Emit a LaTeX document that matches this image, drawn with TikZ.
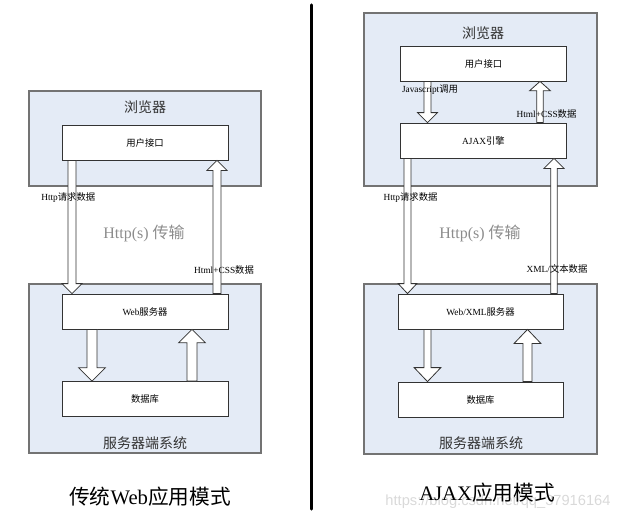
\documentclass[tikz,border=0pt]{standalone}
\usepackage{fontspec}
\setmainfont{Liberation Serif}
\newfontfamily\cjk{Noto Sans CJK SC}
\newfontfamily\wmfont{Liberation Sans}
\usetikzlibrary{positioning, calc}

\definecolor{panelblue}{RGB}{228,235,246}
\newcommand\zh[1]{{\cjk #1}}
% block arrows: start, end (only its y is used), half shaft, half head, head length
\newcommand\fatdown[5]{%
  \draw[fatarrow] let \p1=#1, \p2=#2 in
    (\x1-#3,\y1) -- (\x1-#3,\y2+#5) -- (\x1-#4,\y2+#5) -- (\x1,\y2)
    -- (\x1+#4,\y2+#5) -- (\x1+#3,\y2+#5) -- (\x1+#3,\y1) -- cycle;}
\newcommand\fatup[5]{%
  \draw[fatarrow] let \p1=#1, \p2=#2 in
    (\x1-#3,\y1) -- (\x1-#3,\y2-#5) -- (\x1-#4,\y2-#5) -- (\x1,\y2)
    -- (\x1+#4,\y2-#5) -- (\x1+#3,\y2-#5) -- (\x1+#3,\y1) -- cycle;}

\begin{document}
\begin{tikzpicture}[x=0.75pt, y=-0.75pt,
    panel/.style={draw=black!55, fill=panelblue, line width=0.8pt, minimum width=174pt, inner sep=0pt},
    unit/.style={draw=black!80, fill=white, line width=0.6pt, minimum width=124.5pt,
                 minimum height=26.25pt, inner sep=0pt, font=\fontsize{7}{8}\selectfont},
    fatarrow/.style={draw=black!80, fill=white, line width=0.6pt},
    lbl/.style={inner sep=0pt, font=\fontsize{7}{8}\selectfont},
    paneltitle/.style={inner sep=0pt, text=black!80, font=\fontsize{10.5}{12}\selectfont},
    transfer/.style={inner sep=0pt, text=black!45, font=\fontsize{12}{14}\selectfont},
    caption/.style={inner sep=0pt, font=\fontsize{15.5}{18}\selectfont},
    watermark/.style={inner sep=0pt, text=black!15, font=\wmfont\fontsize{11}{13}\selectfont},
    divider/.style={line width=2.4pt, line cap=round}
  ]
  \useasboundingbox (0,0) rectangle (629,521);

  % traditional web model
  \node[panel, minimum height=71.25pt] (browserL) at (145,138.5) {};
  \node[paneltitle] (browserLtitle) at (145,107) {\zh{浏览器}};
  \node[unit] (uiL) at (145,142.5) {\zh{用户接口}};
  \node[panel, minimum height=126.75pt] (serverL) at (145,368.5) {};
  \node[unit] (webL) at (145,311.5) {Web\zh{服务器}};
  \node[unit] (dbL) at (145,399) {\zh{数据库}};
  \node[paneltitle] (serverLtitle) at (145,443) {\zh{服务器端系统}};

  \fatdown{($(uiL.south)+(-73,0)$)}{(webL.north)}{3pt}{7.5pt}{7.5pt}
  \fatup{($(webL.north)+(72,0)$)}{(uiL.south)}{3pt}{7.5pt}{7.5pt}
  \fatdown{($(webL.south)+(-53,0)$)}{(dbL.north)}{3.75pt}{10pt}{10pt}
  \fatup{($(dbL.north)+(47,0)$)}{(webL.south)}{3.75pt}{10pt}{10pt}

  \node[lbl, anchor=west] (reqL) at (41,198) {Http\zh{请求数据}};
  \node[lbl] (respL) at (224,270) {Html+CSS\zh{数据}};
  \node[transfer] (httpL) at (144,233) {Http(s) \zh{传输}};
  \node[caption] (titleL) at (150,497) {\zh{传统}Web\zh{应用模式}};

  % divider
  \coordinate (divtop) at (311.5,5);
  \coordinate (divbottom) at (311.5,509);
  \draw[divider] (divtop) -- (divbottom);

  % AJAX model
  \node[panel, minimum width=174.75pt, minimum height=129.75pt] (browserR) at (480.5,99.5) {};
  \node[paneltitle] (browserRtitle) at (483,33) {\zh{浏览器}};
  \node[unit] (uiR) at (483.5,63.5) {\zh{用户接口}};
  \node[unit] (ajaxR) at (483.5,140.5) {AJAX\zh{引擎}};
  \node[panel, minimum width=174.75pt, minimum height=127.5pt] (serverR) at (480.5,369) {};
  \node[unit, minimum width=123.75pt] (webR) at (480.5,311.5) {Web/XML\zh{服务器}};
  \node[unit, minimum width=123.75pt] (dbR) at (480.5,399.5) {\zh{数据库}};
  \node[paneltitle] (serverRtitle) at (481,443) {\zh{服务器端系统}};

  \fatdown{($(uiR.south)+(-56,0)$)}{(ajaxR.north)}{2.6pt}{7.5pt}{7.5pt}
  \fatup{($(ajaxR.north)+(56.5,0)$)}{(uiR.south)}{2.4pt}{7.8pt}{7pt}
  \fatdown{($(ajaxR.south)+(-76,0)$)}{(webR.north)}{2.6pt}{7pt}{7.5pt}
  \fatup{($(webR.north)+(73.5,0)$)}{(ajaxR.south)}{2.4pt}{7.5pt}{7.5pt}
  \fatdown{($(webR.south)+(-53,0)$)}{(dbR.north)}{2.6pt}{10pt}{10.5pt}
  \fatup{($(dbR.north)+(47,0)$)}{(webR.south)}{3.4pt}{10pt}{10.5pt}

  \node[lbl] (callR) at (430,90) {Javascript\zh{调用}};
  \node[lbl] (respR) at (546.5,114) {Html+CSS\zh{数据}};
  \node[lbl] (reqR) at (410.5,198) {Http\zh{请求数据}};
  \node[lbl] (xmlR) at (557,269) {XML/\zh{文本数据}};
  \node[transfer] (httpR) at (480,233) {Http(s) \zh{传输}};
  \node[watermark] (urlR) at (498,502) {https://blog.csdn.net/qq\_37916164};
  \node[caption] (titleR) at (487,493) {AJAX\zh{应用模式}};
\end{tikzpicture}
\end{document}
